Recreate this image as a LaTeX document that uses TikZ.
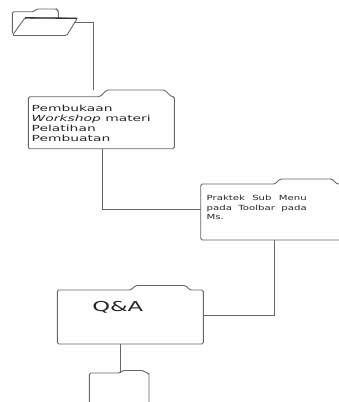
\documentclass[tikz,border=0pt]{standalone}
\usepackage{fontspec}
\setmainfont{DejaVu Sans}
\newfontfamily\wideFont[FakeStretch=1.65]{DejaVu Sans}
\newfontfamily\smallFont[FakeStretch=1.45]{DejaVu Sans}

% outline of a folder: node, tab start x, tab length, tab height
\newcommand{\foldershape}[4]{%
\draw[outline] (#1.south west) -- (#1.north west) -- (#2,0 |- #1.north) -- ++(#4,-#4) -- ++(#3,0) -- ++(#4,#4) -- (#1.north east) -- (#1.south east) -- cycle;}

\tikzset{
folderbody/.style={anchor=north west, inner sep=0pt, outer sep=0pt},
outline/.style={draw=black!60, line width=0.9pt, rounded corners=1.5pt},
link/.style={draw=black!60, line width=0.9pt},
boxtext/.style={inner sep=0pt, align=left, text=black!85}
}

\begin{document}
\begin{tikzpicture}[x=1pt, y=-1pt]
\useasboundingbox (0,0) rectangle (338,402);

% folder icon on top
\draw[outline] (12.3,33) -- (12.3,11.7) -- (34,11.7) -- (36.5,9) -- (56.5,9) -- (58.3,11) -- (58.3,17.5);
\draw[outline] (12.3,35.5) -- (25,17.8) -- (77.3,18.3) -- (66.7,35.5) -- cycle;
\draw[line width=1.3pt, black!80] (25,17.8) -- (77.3,18.3);
\coordinate (icon) at (74.6,22.7);

% folders
\node[folderbody, minimum width=146pt, minimum height=52pt] (pembukaan) at (28.3,96.7) {};
\node[folderbody, minimum width=140pt, minimum height=56pt] (praktek) at (200.7,184) {};
\node[folderbody, minimum width=146pt, minimum height=54pt] (qa) at (57.3,290) {};
\node[folderbody, minimum width=59.7pt, minimum height=40pt] (last) at (89.3,373) {};

\foldershape{pembukaan}{100}{58}{6.7}
\foldershape{praktek}{275}{52}{5}
\foldershape{qa}{131}{50}{4.5}
\foldershape{last}{120}{21}{2.5}

% texts
\node[boxtext, anchor=north west, font=\wideFont\fontsize{8.4}{10}\selectfont] (pembukaantext) at (31.5,105) {Pembukaan\\\textit{Workshop} materi\\Pelatihan\\Pembuatan};
\node[boxtext, anchor=north west, font=\smallFont\fontsize{7}{9.5}\selectfont] (praktektext) at (206.5,195) {\makebox[100pt][s]{Praktek Sub Menu}\\\makebox[100pt][s]{pada Toolbar pada}\\Ms.};
\node[boxtext, font=\wideFont\fontsize{13.7}{16}\selectfont] (qatext) at (117.7,307.5) {Q\&A};

% connectors
\draw[link, shorten >=6.7pt] (icon) -| (93.3,0 |- pembukaan.north);
\draw[link] (pembukaan.south -| 102,0) |- (praktek.west |- 0,209.3);
\draw[link] (praktek.south -| 274,0) |- (qa.east |- 0,315);
\draw[link] (qa.south -| 120,0) -- (last.north -| 120,0);
\end{tikzpicture}
\end{document}
